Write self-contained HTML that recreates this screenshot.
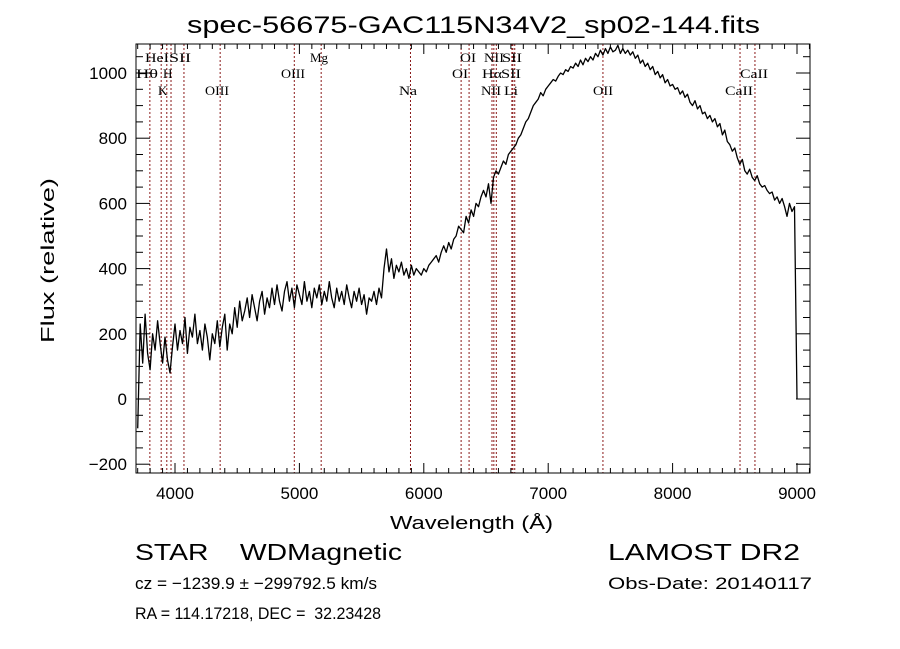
<!DOCTYPE html>
<html><head><meta charset="utf-8"><style>
html,body{margin:0;padding:0;background:#fff;}
svg{display:block;}
text{font-family:"Liberation Sans",sans-serif;fill:#000;white-space:pre;}
.lbl{font-family:"Liberation Serif",serif;font-size:13px;}
</style></head><body>
<svg id="chart" width="900" height="649" viewBox="0 0 900 649" xmlns="http://www.w3.org/2000/svg" xml:space="preserve">
<rect width="900" height="649" fill="#fff"/>
<text x="187" y="33" font-size="24" textLength="573" lengthAdjust="spacingAndGlyphs">spec-56675-GAC115N34V2_sp02-144.fits</text>
<g id="lines"></g>
<g id="ticks"></g>
<path id="spec" fill="none" stroke="#000" stroke-width="1.3" stroke-linejoin="round"/>
<rect x="136" y="44" width="674" height="429" fill="none" stroke="#000" stroke-width="1"/>
<g>
<text class="lbl" x="145" y="62" textLength="24" lengthAdjust="spacingAndGlyphs">HeI</text><text class="lbl" x="169" y="62" textLength="22" lengthAdjust="spacingAndGlyphs">SII</text>
<text class="lbl" x="310" y="62" textLength="18" lengthAdjust="spacingAndGlyphs">Mg</text><text class="lbl" x="460" y="62" textLength="16" lengthAdjust="spacingAndGlyphs">OI</text>
<text class="lbl" x="484" y="62" textLength="20" lengthAdjust="spacingAndGlyphs">NII</text><text class="lbl" x="502" y="62" textLength="20" lengthAdjust="spacingAndGlyphs">SII</text>
<text class="lbl" x="136" y="78" textLength="22" lengthAdjust="spacingAndGlyphs">Hθ</text><text class="lbl" x="163" y="78">H</text>
<text class="lbl" x="281" y="78" textLength="24" lengthAdjust="spacingAndGlyphs">OIII</text><text class="lbl" x="452" y="78" textLength="16" lengthAdjust="spacingAndGlyphs">OI</text>
<text class="lbl" x="482" y="78" textLength="20" lengthAdjust="spacingAndGlyphs">Hα</text><text class="lbl" x="501" y="78" textLength="20" lengthAdjust="spacingAndGlyphs">SII</text>
<text class="lbl" x="740" y="78" textLength="28" lengthAdjust="spacingAndGlyphs">CaII</text>
<text class="lbl" x="158" y="95">K</text><text class="lbl" x="205" y="95" textLength="24" lengthAdjust="spacingAndGlyphs">OIII</text>
<text class="lbl" x="399" y="95" textLength="18" lengthAdjust="spacingAndGlyphs">Na</text><text class="lbl" x="481" y="95" textLength="20" lengthAdjust="spacingAndGlyphs">NII</text>
<text class="lbl" x="504" y="95" textLength="14" lengthAdjust="spacingAndGlyphs">Li</text><text class="lbl" x="593" y="95" textLength="20" lengthAdjust="spacingAndGlyphs">OII</text>
<text class="lbl" x="725" y="95" textLength="28" lengthAdjust="spacingAndGlyphs">CaII</text>
</g>
<text x="390" y="529" font-size="18" textLength="163" lengthAdjust="spacingAndGlyphs">Wavelength (Å)</text>
<text transform="translate(54,343) rotate(-90)" font-size="18" textLength="165" lengthAdjust="spacingAndGlyphs">Flux (relative)</text>
<text x="135" y="560" font-size="23" textLength="267" lengthAdjust="spacingAndGlyphs">STAR    WDMagnetic</text>
<text x="608" y="560" font-size="23" textLength="192" lengthAdjust="spacingAndGlyphs">LAMOST DR2</text>
<text x="135" y="589" font-size="17" textLength="242" lengthAdjust="spacingAndGlyphs">cz = −1239.9 ± −299792.5 km/s</text>
<text x="608" y="589" font-size="17" textLength="204" lengthAdjust="spacingAndGlyphs">Obs-Date: 20140117</text>
<text x="135" y="619" font-size="17" textLength="246" lengthAdjust="spacingAndGlyphs">RA = 114.17218, DEC =  32.23428</text>
</svg>
<script>
const waveStart = 3700;
const waveStep = 20;
const flux = [
-90,230,110,260,140, 90,200,150,240,170, 110,190,120,80,160,
230,150,210,170,250, 140,220,190,260,170, 210,150,230,190,120,
200,170,240,160,220, 260,150,230,200,280, 220,300,240,270,310,
250,320,280,240,300, 330,260,310,280,340, 290,350,300,270,330,
360,300,340,280,350, 320,290,360,300,330, 280,340,310,350,290,
330,300,360,310,280, 340,300,330,290,350, 310,280,330,300,340,
290,320,260,310,300, 330,290,340,310,400, 460,390,430,370,410,
390,420,380,400,370, 410,380,400,390,380, 400,390,410,420,430,
440,420,450,470,450, 480,460,490,500,530, 520,510,560,540,580,
560,600,590,620,640, 620,660,600,680,700, 690,710,730,720,750,
760,770,780,800,810, 830,850,860,880,900, 910,920,940,930,950,
960,970,980,975,990, 1000,995,1010,1005,1020, 1015,1030,1020,1040,1025,
1045,1035,1050,1040,1060, 1050,1070,1055,1075,1060, 1080,1065,1070,1085,1060,
1075,1060,1070,1055,1065, 1045,1055,1030,1040,1020, 1030,1010,1020,995,1005,
985,995,970,980,960, 965,950,955,935,945, 925,935,910,900,915,
890,900,875,880,860, 870,850,860,835,845, 810,825,790,780,760,
770,740,720,735,700, 690,705,680,670,685, 660,650,655,640,630,
635,610,620,600,615, 590,560,600,575,590, 0
];
const lineWaves = [3798,3889,3934,3968,4072,4363,4959,5175,5893,6300,6364,6548,6563,6583,6708,6716,6731,7440,8542,8662];
const xTicks = [4000,5000,6000,7000,8000,9000];
const yTicks = [-200,0,200,400,600,800,1000];

const X0=136,X1=810,Y0=44,Y1=473;
const xs = w => 175 + (w-4000)*0.1244;
const ys = f => 399 - f*0.326;
const NS="http://www.w3.org/2000/svg";

let d="";
flux.forEach((f,i)=>{ const w=waveStart+i*waveStep; d+=(i?"L":"M")+xs(w).toFixed(1)+" "+ys(f).toFixed(1); });
document.getElementById('spec').setAttribute('d',d);

const lg=document.getElementById('lines');
lineWaves.forEach(w=>{
  const l=document.createElementNS(NS,'line');
  
  
  const x=xs(w);
  l.setAttribute('x1',x);l.setAttribute('x2',x);l.setAttribute('y1',Y0);l.setAttribute('y2',Y1);
  l.setAttribute('stroke','#8b1a1a');l.setAttribute('stroke-width','1');l.setAttribute('stroke-dasharray','2,2');
  lg.appendChild(l);
});

const tg=document.getElementById('ticks');
function ln(x1,y1,x2,y2){const l=document.createElementNS(NS,'line');l.setAttribute('x1',x1);l.setAttribute('y1',y1);l.setAttribute('x2',x2);l.setAttribute('y2',y2);l.setAttribute('stroke','#000');tg.appendChild(l);}
for(let w=3700;w<=9100;w+=100){const x=xs(w);if(x<X0||x>X1)continue;const big=w%1000===0;const L=big?10:5;ln(x,Y1,x,Y1-L);ln(x,Y0,x,Y0+L);}
for(let f=-200;f<=1050;f+=50){const y=ys(f);if(y<Y0||y>Y1)continue;const big=f%200===0;const L=big?14:7;ln(X0,y,X0+L,y);ln(X1,y,X1-L,y);}
xTicks.forEach(w=>{const t=document.createElementNS(NS,'text');


t.setAttribute('x',xs(w));t.setAttribute('y',499);t.setAttribute('text-anchor','middle');t.setAttribute('font-size','17');t.textContent=w;tg.appendChild(t);});
yTicks.forEach(f=>{const t=document.createElementNS(NS,'text');


t.setAttribute('x',127);t.setAttribute('y',ys(f)+6);t.setAttribute('text-anchor','end');t.setAttribute('font-size','17');t.textContent=f<0?'−'+(-f):f;tg.appendChild(t);});
</script>
</body></html>
